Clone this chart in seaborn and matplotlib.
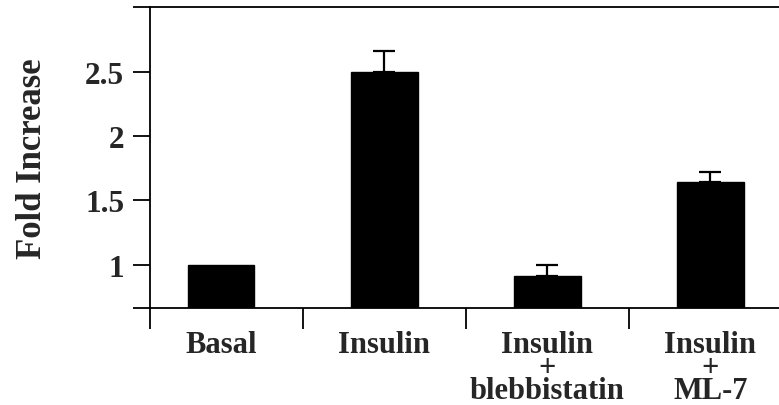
import matplotlib
matplotlib.use('Agg')
import matplotlib.pyplot as plt
import seaborn as sns
import pandas as pd
import numpy as np

conditions = ['Basal', 'Insulin', 'Insulin\n+\nblebbistatin', 'Insulin\n+\nML-7']
fold_increase = [1.0, 2.5, 0.91, 1.64]
error_up = [0.0, 0.16, 0.09, 0.08]
ytick_vals = [1, 1.5, 2, 2.5]
ytick_labels = ['1', '1.5', '2', '2.5']

sns.set_style('white')
plt.rcParams['font.family'] = ['Liberation Serif', 'DejaVu Serif']
plt.rcParams['font.weight'] = 'bold'

df = pd.DataFrame({'cond': conditions, 'fold': fold_increase})

fig = plt.figure(figsize=(7.79, 4.06), dpi=100)
ax = fig.add_axes([0.1926, 0.239, 0.8074, 0.741])

sns.barplot(data=df, x='cond', y='fold', color='black', width=0.41,
            saturation=1, edgecolor='black', ax=ax)

# one-sided error bars
xs = np.arange(len(conditions))
errs = np.array(error_up)
mask = errs > 0
ax.errorbar(xs[mask], np.array(fold_increase)[mask],
            yerr=[np.zeros(mask.sum()), errs[mask]],
            fmt='none', ecolor='black', elinewidth=1.6, capsize=8, capthick=1.6)

xmin, xmax = -0.435, 3.42
ymin, ymax = 0.665, 3.0
ax.set_xlim(xmin, xmax)
ax.set_ylim(ymin, ymax)

# y ticks incl. unlabeled ones at the axis ends
ax.set_yticks([ymin] + ytick_vals + [ymax])
ax.set_yticklabels([''] + ytick_labels + [''])
ax.tick_params(axis='y', direction='out', length=12.5, width=1.3, color='black',
               labelsize=22.5, pad=6, left=True)

# x: major ticks at group boundaries, labels on minor ticks
ax.set_xticks([xmin, 0.5, 1.5, 2.5])
ax.set_xticklabels([])
ax.set_xticks(xs, minor=True)
ax.set_xticklabels(conditions, minor=True, fontsize=22, fontweight='bold',
                   linespacing=0.72, va='top')
ax.tick_params(axis='x', which='major', direction='out', length=15, width=1.3,
               color='black', bottom=True)
ax.tick_params(axis='x', which='minor', length=0, pad=16)

for s in ['left', 'bottom', 'top']:
    ax.spines[s].set_visible(True)
    ax.spines[s].set_color('black')
    ax.spines[s].set_linewidth(1.3)
ax.spines['right'].set_visible(False)

ax.set_xlabel('')
ax.set_ylabel('Fold Increase', fontsize=25, fontweight='bold', labelpad=26)

fig.savefig('out.png', dpi=100)
